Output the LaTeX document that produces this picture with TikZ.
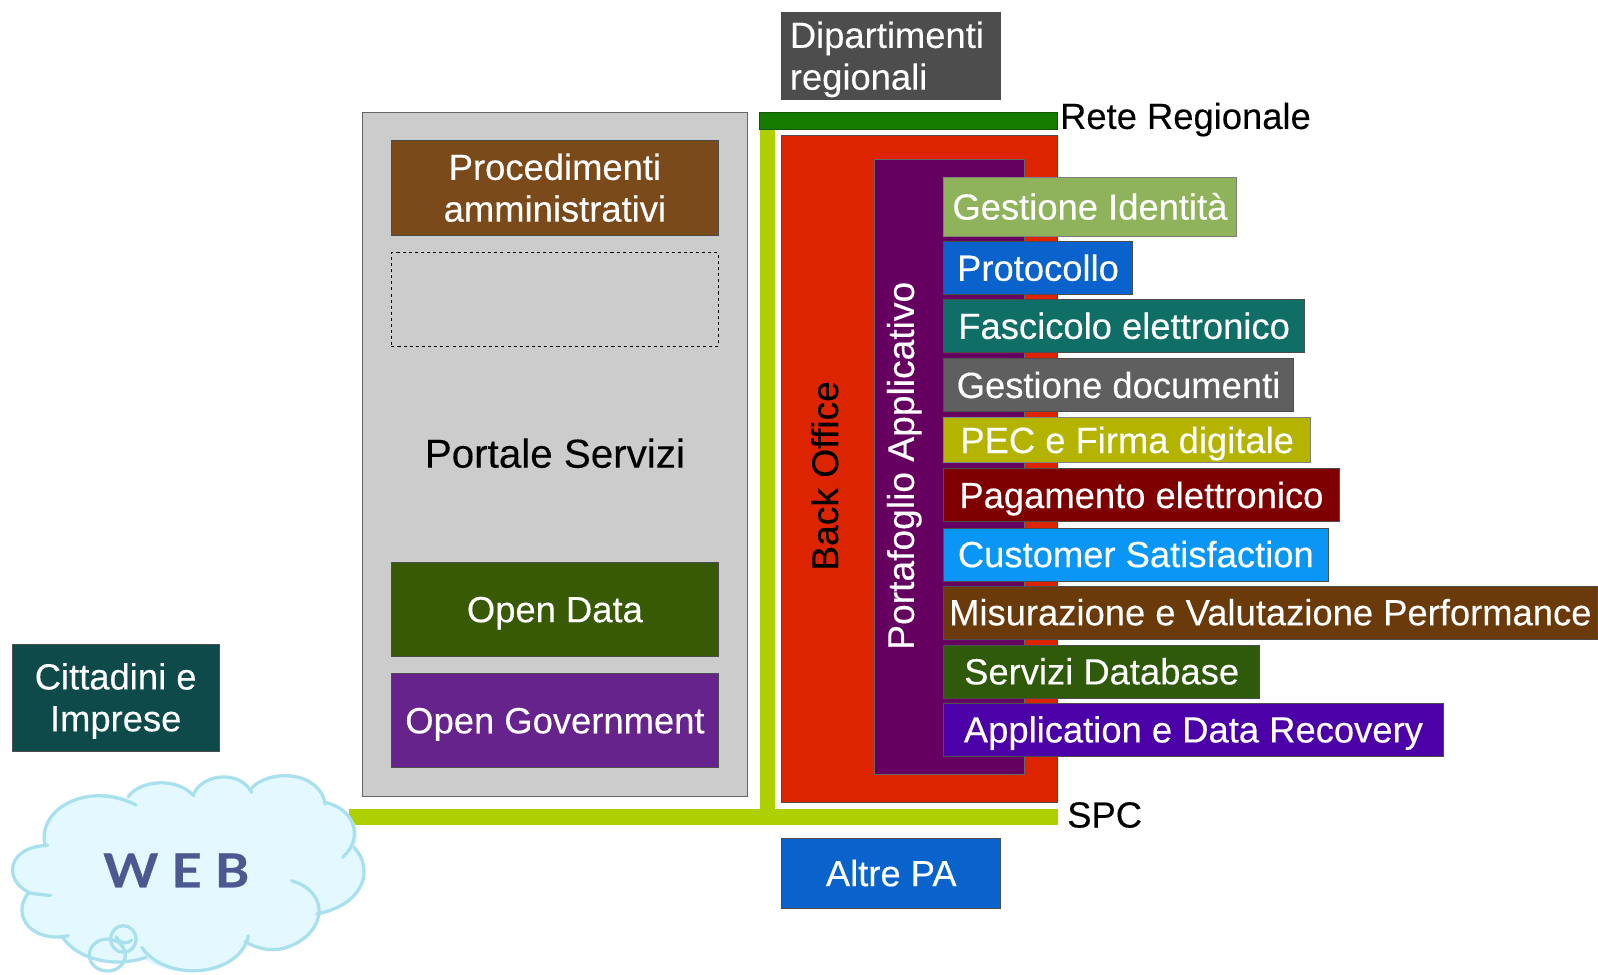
\documentclass[tikz,border=0pt]{standalone}
\usepackage{fontspec}
\setmainfont{Liberation Sans}[FakeBold=0.25]
\newfontfamily\webfont{Lato Bold}[FakeStretch=1.12,FakeBold=0.5]
\definecolor{cGrey}{HTML}{CCCCCC}
\definecolor{cProc}{HTML}{7B4A1B}
\definecolor{cOpenD}{HTML}{385A05}
\definecolor{cOpenG}{HTML}{66238C}
\definecolor{cRete}{HTML}{167C00}
\definecolor{cLime}{HTML}{AFD000}
\definecolor{cRed}{HTML}{DD2400}
\definecolor{cPort}{HTML}{660060}
\definecolor{cGest}{HTML}{8FB35A}
\definecolor{cProt}{HTML}{0A63CC}
\definecolor{cFasc}{HTML}{0F6E66}
\definecolor{cDocs}{HTML}{5F5F5F}
\definecolor{cPec}{HTML}{B4B400}
\definecolor{cPag}{HTML}{7F0000}
\definecolor{cCust}{HTML}{0A96F5}
\definecolor{cMis}{HTML}{6B3A0B}
\definecolor{cDb}{HTML}{2F5A0A}
\definecolor{cApp}{HTML}{4B00A8}
\definecolor{cCit}{HTML}{0F4A4A}
\definecolor{cDip}{HTML}{4D4D4D}
\definecolor{cCloudL}{HTML}{A8E0EE}
\definecolor{cCloudF}{HTML}{E4F9FF}
\definecolor{cWeb}{HTML}{4A5A90}
\newcommand{\st}{\rule[-0.21em]{0pt}{1.12em}}
\newcommand{\bx}[7]{\node[boxbase,#7,fill=#6,minimum width={(#4-#2)*1pt},minimum height={(#5-#3)*1pt}] (#1) at ({(#2+#4)/2},{(#3+#5)/2})}
\tikzset{
  boxbase/.style={draw=black!70,line width=0.8pt,inner sep=0pt,text=white,align=center,font=\fontsize{35.7}{41}\selectfont},
  plaintext/.style={inner sep=0pt,text=black,font=\fontsize{35.7}{41}\selectfont},
  limeline/.style={draw=cLime,line width=15.5pt},
  cloudline/.style={draw=cCloudL,line width=3.2pt,line cap=round},
}
\begin{document}
\begin{tikzpicture}[x=1pt,y=-1pt]
\useasboundingbox (0,0) rectangle (1568,956);
% grey panel
\bx{portale}{356}{110}{733}{781}{cGrey}{draw=black!60}{};
\node[plaintext,font=\fontsize{39.6}{41}\selectfont] (portaletxt) at (544.5,445) {\st Portale Servizi};
\bx{proc}{384}{138}{705}{231}{cProc}{}{\st Procedimenti\\\st amministrativi};
\node[draw=black,dashed,line width=0.7pt,minimum width=321pt,minimum height=92pt,inner sep=0pt] (dash) at (544.5,294) {};
\bx{opend}{384}{552}{705}{644}{cOpenD}{}{\st Open Data};
\bx{openg}{384}{661}{705}{753}{cOpenG}{}{\st Open Government};
% networks
\bx{rete}{745}{110}{1038}{127}{cRete}{draw=cRete!70!black}{};
\node[plaintext,anchor=west] (retetxt) at (1040,114) {\st Rete Regionale};
\coordinate (limeW) at (342,801.5);
\coordinate (limeE) at (1038,801.5);
\coordinate (limeJ) at (753,809);
\draw[limeline] (limeW) -- (limeE);
\draw[limeline] (limeJ) -- (rete.south -| limeJ);
\node[plaintext,anchor=west] (spc) at (1047,799.5) {\st SPC};
% back office
\bx{red}{767}{133}{1038}{787}{cRed}{draw=black!70}{};
\node[plaintext,rotate=90,font=\fontsize{36.5}{41}\selectfont] (bo) at (809.5,467) {\st Back Office};
\bx{port}{858}{156}{1005}{760}{cPort}{draw=black!60}{};
\node[plaintext,rotate=90,text=white,font=\fontsize{36.5}{41}\selectfont] (porttxt) at (884,457) {\st Portafoglio Applicativo};
% items
\bx{gest}{926}{174}{1213}{232}{cGest}{draw=black!50}{\st Gestione Identità};
\bx{prot}{926}{237}{1111}{289}{cProt}{}{\st Protocollo};
\bx{fasc}{926}{294}{1280}{346}{cFasc}{}{\st Fascicolo elettronico};
\bx{docs}{926}{352}{1269}{404}{cDocs}{}{\st Gestione documenti};
\bx{pec}{926}{410}{1286}{454}{cPec}{draw=black!50}{\st PEC e Firma digitale};
\bx{pag}{926}{460}{1314}{512}{cPag}{}{\st Pagamento elettronico};
\bx{cust}{926}{518}{1303}{570}{cCust}{}{\st Customer Satisfaction};
\bx{mis}{926}{575}{1567}{627}{cMis}{}{\st Misurazione e Valutazione Performance};
\bx{db}{926}{633}{1236}{685}{cDb}{}{\st Servizi Database};
\bx{app}{926}{690}{1416}{742}{cApp}{}{\st Application e Data Recovery};
% others
\bx{altre}{767}{823}{982}{891}{cProt}{}{\st Altre PA};
\bx{cit}{12}{632}{215}{737}{cCit}{}{\st Cittadini e\\\st Imprese};
\bx{dip}{767}{12}{982}{98}{cDip}{text width=199pt,align=left}{\st Dipartimenti\\\st regionali};
% cloud
\begin{scope}[x=0.3271pt,y=-0.3271pt,yshift=-726.1pt]
\fill[cCloudF] (135,315) .. controls (110,210) and (250,130) .. (385,175)
 .. controls (420,120) and (530,110) .. (580,165)
 .. controls (610,105) and (720,90) .. (755,155)
 .. controls (800,90) and (960,90) .. (975,190)
 .. controls (1050,200) and (1090,270) .. (1065,320)
 .. controls (1120,390) and (1090,490) .. (955,520)
 .. controls (950,600) and (830,650) .. (745,610)
 .. controls (700,710) and (500,720) .. (425,650)
 .. controls (360,680) and (240,670) .. (190,590)
 .. controls (100,610) and (30,530) .. (85,460)
 .. controls (10,420) and (20,320) .. (135,315) -- cycle;
\draw[cloudline] (135,315) .. controls (110,210) and (260,120) .. (408,195);
\draw[cloudline] (385,170) .. controls (420,120) and (530,110) .. (582,168);
\draw[cloudline] (582,160) .. controls (610,100) and (720,90) .. (755,157);
\draw[cloudline] (750,150) .. controls (800,85) and (960,90) .. (975,192);
\draw[cloudline] (975,187) .. controls (1060,205) and (1095,290) .. (1028,352);
\draw[cloudline] (1062,322) .. controls (1125,390) and (1090,495) .. (950,522);
\draw[cloudline] (875,422) .. controls (1000,460) and (975,590) .. (850,625) .. controls (810,635) and (770,625) .. (735,605);
\draw[cloudline] (745,587) .. controls (720,710) and (500,730) .. (425,622);
\draw[cloudline] (438,652) .. controls (360,680) and (240,670) .. (185,588);
\draw[cloudline] (205,587) .. controls (100,610) and (30,530) .. (85,458) .. controls (105,462) and (130,465) .. (152,466);
\draw[cloudline] (85,456) .. controls (10,420) and (20,320) .. (143,316);
\draw[cloudline] (370,597) ellipse [x radius=38,y radius=40];
\draw[cloudline] (322,645) ellipse [x radius=54,y radius=48];
\draw[cloudline] (348,590) .. controls (360,610) and (380,615) .. (395,600);
\end{scope}
\node[inner sep=0pt,text=cWeb,font=\webfont\fontsize{46}{46}\selectfont] (web) at (173,854) {W\hspace{0.28em}E\hspace{0.28em}B};
\end{tikzpicture}
\end{document}
